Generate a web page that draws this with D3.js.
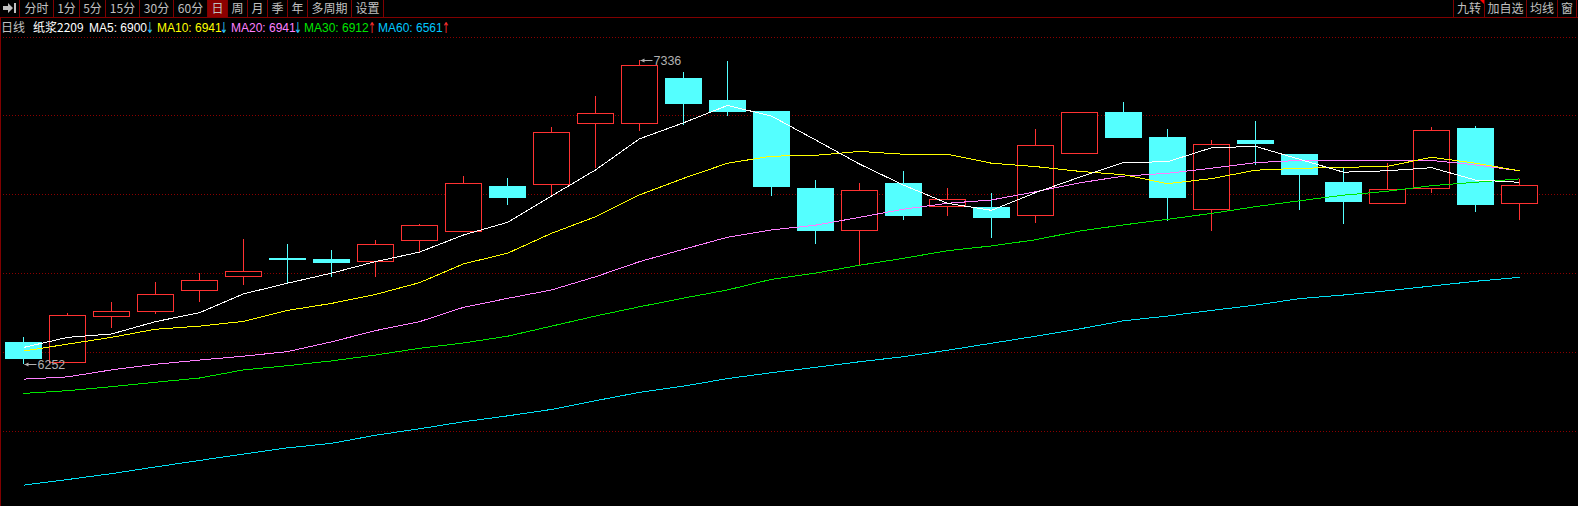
<!DOCTYPE html>
<html><head><meta charset="utf-8">
<script src="https://cdn.jsdelivr.net/npm/d3@7"></script>
<style>
html,body{margin:0;padding:0;background:#000;overflow:hidden}
svg{display:block}
text{font-family:"Liberation Sans",Arial,sans-serif;font-size:12px}
.cjk{font-family:"Noto Sans CJK SC",sans-serif}
.arrow{font-family:"DejaVu Sans",sans-serif;font-size:15px}
</style></head><body>
<svg id="c" width="1578" height="506"></svg>
<script>
const sessions = d3.range(1, 36);
const opens = [6330,6260,6421,6438,6513,6563,6629,6626,6617,6692,6724,6887,6891,7112,7110,7272,7193,7154,6880,6727,6897,6814,6812,6784,7002,7151,7061,6802,7051,7001,6901,6824,6878,7093,6824];
const highs = [6348,6433,6473,6544,6575,6698,6680,6658,6694,6751,6922,6915,7096,7208,7336,7293,7332,7154,6908,6897,6940,6880,6862,7090,7149,7186,7090,7051,7118,7001,6951,6969,7097,7101,6912];
const lows = [6252,6260,6381,6431,6474,6535,6540,6563,6563,6651,6724,6819,6851,6951,7084,7105,7136,6851,6680,6605,6765,6780,6701,6755,7002,7058,6762,6726,6962,6801,6751,6824,6862,6794,6765];
const closes = [6273,6426,6440,6500,6550,6582,6627,6616,6679,6747,6896,6847,7078,7146,7317,7183,7154,6887,6730,6871,6783,6839,6776,7032,7149,7061,6847,7035,7040,6929,6833,6875,7085,6822,6889];
const ma5 = [6311,6347,6359,6403,6435,6502,6540,6576,6617,6651,6712,6757,6851,6944,7055,7112,7174,7136,7051,6965,6890,6825,6800,6863,6918,6971,6973,7023,7028,6982,6936,6941,6952,6908,6900];
const ma10 = [6298,6323,6347,6376,6387,6404,6443,6468,6500,6542,6609,6647,6718,6777,6855,6914,6968,6993,6996,7010,7000,7000,6968,6956,6939,6927,6895,6913,6943,6950,6953,6957,6989,6968,6941];
const ma20 = [6198,6206,6231,6251,6266,6280,6296,6331,6371,6403,6454,6486,6516,6563,6617,6661,6704,6730,6747,6775,6804,6825,6837,6866,6898,6922,6932,6950,6970,6978,6978,6978,6978,6962,6941];
const ma30 = [6147,6157,6171,6187,6202,6231,6246,6263,6284,6308,6327,6351,6387,6423,6456,6487,6516,6554,6576,6604,6629,6656,6673,6695,6726,6748,6768,6789,6813,6834,6854,6868,6888,6900,6912];
const ma60 = [5820,5840,5861,5885,5908,5931,5953,5969,5998,6021,6046,6067,6090,6121,6151,6173,6200,6221,6240,6260,6278,6301,6326,6351,6377,6406,6423,6443,6462,6485,6498,6513,6530,6547,6561];
const gridValues = [7418,7140,6858,6576,6295,6013];
const maNames = ["MA5","MA10","MA20","MA30","MA60"];
const maLast = [6900,6941,6941,6912,6561];
const maUp = [false,false,false,true,true];
const maColors = ["#ffffff","#ffff00","#ff80ff","#00e600","#00e0f4"];
const maTextColors = ["#ffffff","#ffff00","#ff80ff","#00e600","#00c8ff"];
const leftTools = ["分时","1分","5分","15分","30分","60分","日","周","月","季","年","多周期","设置"];
const rightTools = ["九转","加自选","均线","窗"];

const RED="#ff3232", CYAN="#54ffff", DARK="#800000";
const svg=d3.select("#c");
const x=d3.scalePoint().domain(sessions).range([23.5,1519.5]);
const y=d3.scaleLinear().domain([7336,6252]).range([60,364]);
const bw=36;
const snap=v=>Math.round(v)+0.5;

// grid
svg.append("g").selectAll("line").data(gridValues).join("line")
  .attr("x1",3).attr("x2",1578)
  .attr("y1",d=>snap(y(d))).attr("y2",d=>snap(y(d)))
  .attr("stroke","#8a0000").attr("stroke-dasharray","1,2").attr("shape-rendering","crispEdges");
svg.append("line").attr("x1",0.5).attr("x2",0.5).attr("y1",17).attr("y2",506).attr("stroke",DARK);

// candles
const idx=d3.range(sessions.length);
const g=svg.append("g").attr("shape-rendering","crispEdges");
const isUp=i=>closes[i]>opens[i];
idx.forEach(i=>{
  const cx=Math.floor(x(sessions[i]))+0.5, c=isUp(i)?RED:CYAN;
  const t=y(Math.max(opens[i],closes[i])), b=y(Math.min(opens[i],closes[i]));
  g.append("line").attr("x1",cx).attr("x2",cx).attr("y1",y(highs[i])).attr("y2",t).attr("stroke",c);
  g.append("line").attr("x1",cx).attr("x2",cx).attr("y1",b).attr("y2",y(lows[i])).attr("stroke",c);
  const r=g.append("rect").attr("x",cx-bw/2).attr("y",Math.round(t)+0.5).attr("width",bw).attr("height",Math.max(1,Math.round(b-t)));
  if(isUp(i)) r.attr("fill","#000").attr("stroke",RED);
  else r.attr("fill",CYAN).attr("stroke",CYAN);
});

// moving averages
const line=d3.line().x((d,i)=>x(sessions[i])).y(d=>y(d));
[ma60,ma30,ma20,ma10,ma5].forEach((s,k)=>{
  svg.append("path").attr("d",line(s)).attr("fill","none").attr("shape-rendering","crispEdges")
    .attr("stroke",maColors[4-k]).attr("stroke-width",1);
});

// extreme labels
function extreme(i,val){
  const cx=x(sessions[i]), yy=Math.round(y(val))+0.5, c="#b0b0b0";
  svg.append("line").attr("x1",cx+1).attr("x2",cx+13).attr("y1",yy).attr("y2",yy).attr("stroke",c);
  svg.append("path").attr("d",`M${cx+1} ${yy}l4 -2v4z`).attr("fill",c);
  svg.append("text").attr("x",cx+14).attr("y",yy+4.5).attr("fill",c).style("font-size","12.5px").text(val);
}
extreme(14,d3.max(highs));
extreme(0,d3.min(lows));

// toolbar
const tb=svg.append("g");
tb.append("line").attr("x1",0).attr("x2",1578).attr("y1",17.5).attr("y2",17.5).attr("stroke",DARK);
const leftEdges=[19,53,79,105,139,173,207,227,247,267,287,307,351,383];
const rightEdges=[1453,1484,1526,1557,1576];
tb.append("rect").attr("x",207).attr("y",0).attr("width",20).attr("height",17).attr("fill","#8c0000");
[...leftEdges,...rightEdges].forEach(e=>tb.append("line").attr("x1",e+.5).attr("x2",e+.5).attr("y1",0).attr("y2",17).attr("stroke",DARK));
leftTools.forEach((t,i)=>tb.append("text").attr("class","cjk").attr("x",(leftEdges[i]+leftEdges[i+1])/2+.5).attr("y",13).attr("text-anchor","middle")
  .attr("fill","#c0c0c0").text(t));
rightTools.forEach((t,i)=>tb.append("text").attr("class","cjk").attr("x",(rightEdges[i]+rightEdges[i+1])/2+.5).attr("y",13).attr("text-anchor","middle")
  .attr("fill","#c0c0c0").text(t));
tb.append("path").attr("d","M1480 0h4v4z").attr("fill","#ff0000");
tb.append("path").attr("d","M3 6h5v-3l5 5l-5 5v-3h-5z").attr("fill","#c0c0c0");
tb.append("rect").attr("x",14).attr("y",3).attr("width",2).attr("height",10).attr("fill","#c0c0c0");

// legend row
const lg=svg.append("g");
lg.append("text").attr("class","cjk").attr("x",1).attr("y",32).attr("fill","#c0c0c0").text("日线");
lg.append("text").attr("class","cjk").attr("x",33).attr("y",32).attr("fill","#fff").text("纸浆2209");
const lx=[89,157,231,304,378], ax=[146,220,294,368,442];
maNames.forEach((n,i)=>{
  lg.append("text").attr("class","arrow").attr("transform",`translate(${ax[i]},32.5) scale(0.62,1)`)
    .attr("fill",maUp[i]?"#ff3232":"#30c8ff").text(maUp[i]?"↑":"↓");
  lg.append("text").attr("x",lx[i]).attr("y",32).attr("fill",maTextColors[i]).text(`${n}: ${maLast[i]}`);
});
</script></body></html>
